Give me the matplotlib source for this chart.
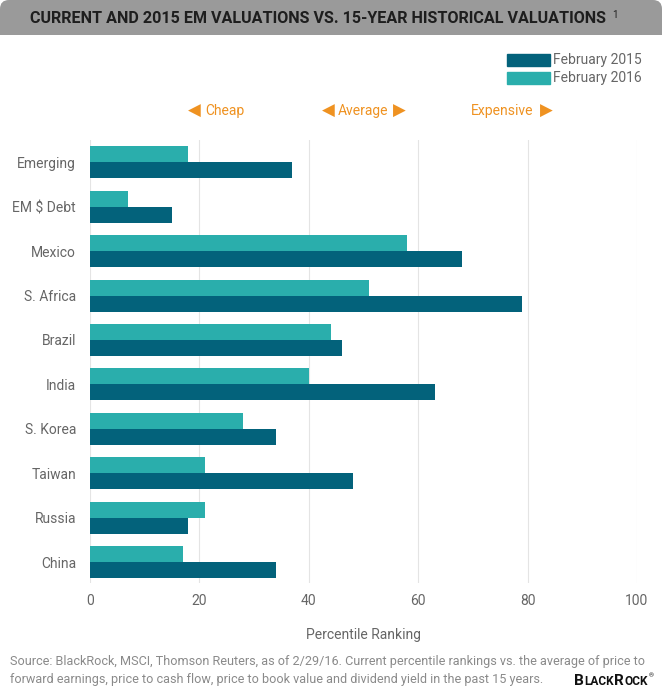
import numpy as np
import matplotlib.pyplot as plt
from matplotlib.patches import FancyBboxPatch, Rectangle

categories = ['Emerging', 'EM $ Debt', 'Mexico', 'S. Africa', 'Brazil',
              'India', 'S. Korea', 'Taiwan', 'Russia', 'China']
feb_2015 = [37, 15, 68, 79, 46, 63, 34, 48, 18, 34]
feb_2016 = [18, 7, 58, 51, 44, 40, 28, 21, 21, 17]
xticks = [0, 20, 40, 60, 80, 100]

dark = '#03627b'
light = '#2aaeac'
orange = '#ef9221'
grey_txt = '#666666'

plt.rcParams['font.family'] = ['Roboto', 'DejaVu Sans']

fig = plt.figure(figsize=(6.62, 6.94), dpi=100)

# background axes in pixel coordinates for the decorations
bg = fig.add_axes([0, 0, 1, 1], zorder=-1)
bg.set_xlim(0, 662)
bg.set_ylim(694, 0)
bg.axis('off')

bg.add_patch(FancyBboxPatch((0, 0), 662, 35, boxstyle='round,pad=0,rounding_size=9',
                            facecolor='#9a9a9a', edgecolor='none'))
bg.add_patch(Rectangle((0, 20), 662, 15, facecolor='#9a9a9a', edgecolor='none'))
bg.text(30, 18, 'CURRENT AND 2015 EM VALUATIONS VS. 15-YEAR HISTORICAL VALUATIONS',
        fontsize=11.6, fontweight='bold', color='#1e1e1e', va='center', ha='left')
bg.text(612, 15, '1', fontsize=7, color='#1e1e1e', va='center')

# legend
bg.add_patch(Rectangle((507, 54), 43, 12, color=dark))
bg.add_patch(Rectangle((507, 72), 43, 12, color=light))
bg.text(553, 60, 'February 2015', fontsize=10, color=grey_txt, va='center')
bg.text(553, 78, 'February 2016', fontsize=10, color=grey_txt, va='center')

# cheap / average / expensive
ty = 111
tri = dict(fontsize=12, color=orange, va='center', ha='center', family='DejaVu Sans')
bg.text(194, ty, '\u25c0', **tri)
bg.text(205, ty, 'Cheap', fontsize=10, color=orange, va='center')
bg.text(328, ty, '\u25c0', **tri)
bg.text(338, ty, 'Average', fontsize=10, color=orange, va='center')
bg.text(399, ty, '\u25b6', **tri)
bg.text(471, ty, 'Expensive', fontsize=10, color=orange, va='center')
bg.text(546, ty, '\u25b6', **tri)

# footnote
bg.text(10, 662,
        'Source: BlackRock, MSCI, Thomson Reuters, as of 2/29/16. Current percentile rankings vs. the average of price to',
        fontsize=9.1, color='#8a8a8a', va='center')
bg.text(10, 679,
        'forward earnings, price to cash flow, price to book value and dividend yield in the past 15 years.',
        fontsize=9.1, color='#8a8a8a', va='center')

# logo in small caps
renderer = fig.canvas.get_renderer()
x0 = 574
for piece, size in [('B', 11), ('LACK', 8.6), ('R', 11), ('OCK', 8.6)]:
    t = bg.text(x0, 685, piece, fontsize=size, fontweight='bold', color='#111111',
                va='baseline', ha='left')
    bb = t.get_window_extent(renderer)
    x0 += bb.width * 662 / fig.bbox.width + 0.3
bg.text(x0 + 0.5, 676, '\u00ae', fontsize=4.5, color='#111111', va='center')

ax = fig.add_axes([90 / 662, 1 - 583 / 694, 547 / 662, (583 - 140) / 694])
y = np.arange(len(categories))
h = 0.36
ax.barh(y - h / 2, feb_2016, height=h, color=light, label='February 2016', zorder=3)
ax.barh(y + h / 2, feb_2015, height=h, color=dark, label='February 2015', zorder=3)
ax.set_ylim(9.47, -0.5)
ax.set_xlim(0, 100)
ax.set_xticks(xticks)
ax.set_yticks(y)
ax.set_yticklabels(categories)
ax.tick_params(length=0, labelsize=10, colors=grey_txt, pad=10)
ax.tick_params(axis='x', pad=8)
ax.grid(axis='x', color='#e4e4e4', linewidth=0.8, zorder=0)
for s in ax.spines.values():
    s.set_visible(False)
ax.set_xlabel('Percentile Ranking', fontsize=10, color=grey_txt, labelpad=14)

fig.savefig('out.png', dpi=100)
